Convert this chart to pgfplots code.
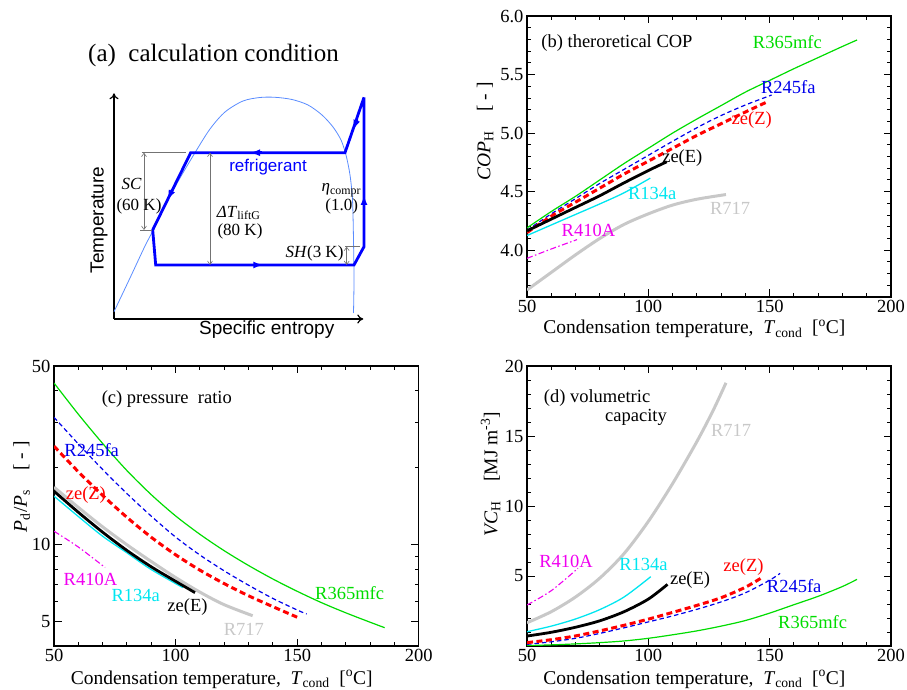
\documentclass[border=0pt]{standalone}
\usepackage{fontspec}
\setmainfont{Liberation Serif}
\newfontfamily\arial{Liberation Sans}
\usepackage{pgfplots}
\pgfplotsset{compat=1.18}
\usetikzlibrary{arrows.meta}

\definecolor{cgreen}{RGB}{0,220,0}
\definecolor{cblue}{RGB}{0,0,235}
\definecolor{cred}{RGB}{255,0,0}
\definecolor{ccyan}{RGB}{0,230,240}
\definecolor{cmag}{RGB}{240,0,240}
\definecolor{cgray}{RGB}{200,200,200}
\definecolor{cdome}{RGB}{90,140,255}

\tikzset{lab/.style={font=\fontsize{18.5bp}{20bp}\selectfont}}
\pgfplotsset{
  panel/.style={
    scale only axis, anchor=south west,
    xmin=50, xmax=200, xtick={50,100,150,200},
    xticklabels={\textrm{50},\textrm{100},\textrm{150},\textrm{200}},
    minor xtick={60,70,80,90,110,120,130,140,160,170,180,190},
    tick align=inside, major tick length=7.5bp, minor tick length=4bp,
    axis line style={line width=1.2bp},
    tick style={line width=0.9bp, black},
    tick label style={font=\fontsize{18.5bp}{20bp}\selectfont},
    label style={font=\fontsize{19.5bp}{21bp}\selectfont},
    xlabel={Condensation temperature,\ \ \textit{T}\textsubscript{cond}\ \ [\textsuperscript{o}C]},
    xlabel style={at={(axis description cs:0.46,-0.12)}, anchor=center},
    ylabel style={anchor=center},
    clip mode=individual,
    /pgf/number format/assume math mode=true,
  },
  r365/.style={cgreen, line width=1.2bp, smooth},
  r245/.style={cblue, line width=1.2bp, dash pattern=on 4.5bp off 3bp, smooth},
  zez/.style={cred, line width=3bp, dash pattern=on 6bp off 3.5bp, smooth},
  zee/.style={black, line width=2.8bp, smooth},
  r134/.style={ccyan, line width=1.3bp, smooth},
  r410/.style={cmag, line width=1.1bp, dash pattern=on 6bp off 2.5bp on 1.5bp off 2.5bp, smooth},
  r717/.style={cgray, line width=3bp, smooth},
}

\begin{document}
\begin{tikzpicture}
\useasboundingbox (0,0) rectangle (907bp,690bp);

% (a) schematic, drawn in picture units (y downwards as negative)
\begin{axis}[
  at={(114bp,371bp)}, anchor=south west, scale only axis,
  width=249.3bp, height=225.7bp,
  xmin=114, xmax=363.3, ymin=-319, ymax=-93.3,
  axis lines=left, xtick=\empty, ytick=\empty, clip=false,
  axis line style={line width=1.2bp, ->, >={To[length=6bp,width=9bp]}},
  flow/.style={blue, line width=2.8bp, ->, >={Latex[length=10bp,width=7bp]}},
  dim/.style={black!55, line width=0.6bp},
  dimarr/.style={black!55, line width=0.6bp, <->, >={Straight Barb[length=3.5bp,width=5bp]}},
]
\addplot[cdome, line width=0.8bp, smooth] coordinates {
  (114,-311.7)(130,-278)(145,-246)(153.3,-230)(165,-205)(180,-178)(195,-152.7)
  (210,-129)(225,-112)(243,-101)(260,-97.5)(275,-97.3)(292,-99.5)(308,-105)
  (322,-115)(333,-127)(341,-140)(346,-155)(350,-175)(352.5,-200)(353.5,-240)
  (354,-280)(353.5,-313)};
\addplot[blue, line width=2.8bp] coordinates {
  (364,-97.3)(345,-152.7)(190.7,-152.7)(152.7,-230)(155.7,-265)
  (354,-265)(364,-246.7)(364,-97.3)};
\addplot[flow] coordinates {(357,-119.5)(353.3,-130)};
\addplot[flow] coordinates {(262,-152.7)(250,-152.7)};
\addplot[flow] coordinates {(172.3,-190)(167.4,-200)};
\addplot[flow] coordinates {(251,-265)(263.3,-265)};
\addplot[flow] coordinates {(364,-207)(364,-195)};
\addplot[dim] coordinates {(141.7,-152.7)(185.7,-152.7)};
\addplot[dim] coordinates {(140,-230)(151.7,-230)};
\addplot[dim] coordinates {(345,-246.7)(360,-246.7)};
\addplot[dimarr] coordinates {(144,-152.7)(144,-230)};
\addplot[dimarr] coordinates {(210,-152.7)(210,-265)};
\addplot[dimarr] coordinates {(346.7,-246.7)(346.7,-265)};
\node[font=\fontsize{25bp}{27bp}\selectfont] at (axis cs:213.5,-55.5) {(a)\ \ calculation condition};
\node[font=\arial\fontsize{17bp}{19bp}\selectfont, text=blue] at (axis cs:268,-166.7) {refrigerant};
\node[font=\fontsize{17bp}{19bp}\selectfont] at (axis cs:131.7,-184) {\textit{SC}};
\node[font=\fontsize{17bp}{19bp}\selectfont] at (axis cs:139,-206) {(60 K)};
\node[font=\fontsize{17bp}{19bp}\selectfont] at (axis cs:238.7,-213) {\textit{ΔT}\textsubscript{liftG}};
\node[font=\fontsize{17bp}{19bp}\selectfont] at (axis cs:240,-231.7) {(80 K)};
\node[font=\fontsize{17bp}{19bp}\selectfont] at (axis cs:341.3,-190) {\textit{η}\textsubscript{compr}};
\node[font=\fontsize{17bp}{19bp}\selectfont] at (axis cs:341.7,-206.7) {(1.0)};
\node[font=\fontsize{17bp}{19bp}\selectfont] at (axis cs:314.5,-253.3) {\textit{SH}(3 K)};
\node[font=\arial\fontsize{19bp}{21bp}\selectfont, rotate=90] at (axis cs:99,-220) {Temperature};
\node[font=\arial\fontsize{19bp}{21bp}\selectfont] at (axis cs:266.7,-330) {Specific entropy};
\end{axis}

% (b) theoretical COP
\begin{axis}[panel, at={(527bp,393bp)}, width=364bp, height=281bp,
  ymin=3.6, ymax=6.0, ytick={4,4.5,5,5.5,6},
  yticklabels={\textrm{4.0},\textrm{4.5},\textrm{5.0},\textrm{5.5},\textrm{6.0}},
  minor ytick={3.7,3.8,3.9,4.1,4.2,4.3,4.4,4.6,4.7,4.8,4.9,5.1,5.2,5.3,5.4,5.6,5.7,5.8,5.9},
  ylabel={\textit{COP}\textsubscript{H}\quad[ - ]},
  ylabel style={at={(axis description cs:-0.115,0.59)}},
  xlabel style={at={(axis description cs:0.46,-0.114)}},
]
\addplot[r717] coordinates {(50,3.66)(60,3.81)(70,3.96)(80,4.10)(90,4.22)(100,4.31)(110,4.385)(120,4.435)(132,4.475)};
\addplot[r410] coordinates {(50,3.93)(60,4.01)(70.6,4.09)};
\addplot[r134] coordinates {(50,4.125)(60,4.215)(70,4.305)(80,4.395)(90,4.49)(100.8,4.615)};
\addplot[r365] coordinates {(50,4.19)(60,4.33)(70,4.46)(80,4.60)(90,4.74)(100,4.87)(110,5.0)(120,5.12)(130,5.235)(140,5.35)(150,5.45)(160,5.55)(170,5.645)(180,5.74)(186,5.795)};
\addplot[r245] coordinates {(50,4.17)(60,4.31)(70,4.44)(80,4.57)(90,4.69)(100,4.81)(110,4.93)(121.3,5.06)(130,5.15)(140,5.24)(150.8,5.325)};
\addplot[zez] coordinates {(50,4.15)(60,4.29)(70,4.41)(80,4.53)(90,4.65)(100,4.76)(110,4.87)(120,4.98)(130,5.08)(140,5.18)(148.8,5.265)};
\addplot[zee] coordinates {(50,4.165)(60,4.265)(70,4.365)(80,4.465)(90,4.575)(100,4.68)(107.6,4.755)};
\node[lab, anchor=west] at (axis cs:54.5,5.77) {(b) theroretical COP};
\node[lab, text=cgreen] at (axis cs:157.3,5.78) {R365mfc};
\node[lab, text=cblue] at (axis cs:157.7,5.39) {R245fa};
\node[lab, text=cred] at (axis cs:142.6,5.11) {ze(Z)};
\node[lab] at (axis cs:114,4.79) {ze(E)};
\node[lab, text=ccyan] at (axis cs:101.6,4.48) {R134a};
\node[lab, text=cgray] at (axis cs:133.7,4.36) {R717};
\node[lab, text=cmag] at (axis cs:75.3,4.17) {R410A};
\end{axis}

% (c) pressure ratio
\begin{axis}[panel, at={(54bp,44bp)}, width=364.7bp, height=280bp,
  ymode=log, ymin=4.02, ymax=50, ytick={5,10,50},
  yticklabels={\textrm{5},\textrm{10},\textrm{50}},
  minor ytick={6,7,8,9,20,30,40},
  ylabel={\textit{P}\textsubscript{d}/\textit{P}\textsubscript{s}\quad[ - ]},
  ylabel style={at={(axis description cs:-0.0885,0.569)}},
]
\addplot[r717] coordinates {(50,16.8)(60,14.0)(70,11.75)(80,10.0)(90,8.6)(100,7.45)(110,6.53)(120,5.83)(131.7,5.28)};
\addplot[r410] coordinates {(50,11.3)(60,9.8)(71,8.15)};
\addplot[r134] coordinates {(50,15.5)(60,12.9)(70,10.8)(80,9.3)(90,8.0)(103,6.8)};
\addplot[r365] coordinates {(50,42.9)(60,32.4)(70,24.9)(80,19.5)(90,15.7)(100,12.97)(110,10.99)(120,9.48)(130,8.30)(140,7.35)(150,6.58)(160,5.94)(170,5.42)(180,4.98)(186,4.74)};
\addplot[r245] coordinates {(50,31.5)(60,24.8)(70,19.7)(80,15.85)(90,12.94)(100,10.72)(110,9.12)(120,7.91)(130,6.95)(140,6.17)(150,5.56)(153.9,5.36)};
\addplot[zez] coordinates {(50,24.3)(60,19.3)(70,15.6)(80,12.8)(90,10.7)(100,9.14)(110,7.96)(120,7.05)(130,6.32)(140,5.73)(150,5.21)};
\addplot[zee] coordinates {(50,16.2)(60,13.4)(70,11.2)(80,9.5)(90,8.2)(100,7.2)(108,6.5)};
\node[lab] at (axis cs:96.4,37.2) {(c) pressure\ \ ratio};
\node[lab, text=cblue] at (axis cs:65.5,23.5) {R245fa};
\node[lab, text=cred] at (axis cs:63.1,15.6) {ze(Z)};
\node[lab, text=cmag] at (axis cs:65,7.3) {R410A};
\node[lab, text=ccyan] at (axis cs:83.6,6.32) {R134a};
\node[lab] at (axis cs:104.9,5.73) {ze(E)};
\node[lab, text=cgray] at (axis cs:128.1,4.67) {R717};
\node[lab, text=cgreen] at (axis cs:171.6,6.46) {R365mfc};
\end{axis}

% (d) volumetric capacity
\begin{axis}[panel, at={(527bp,44bp)}, width=364bp, height=280bp,
  ymin=0, ymax=20, ytick={5,10,15,20},
  yticklabels={\textrm{5},\textrm{10},\textrm{15},\textrm{20}},
  minor ytick={1,2,3,4,6,7,8,9,11,12,13,14,16,17,18,19},
  ylabel={\textit{VC}\textsubscript{H}\quad[MJ m\textsuperscript{-3}]},
  ylabel style={at={(axis description cs:-0.1,0.614)}},
]
\addplot[r717] coordinates {(50,1.66)(60,2.45)(70,3.5)(80,4.85)(90,6.6)(100,8.9)(110,11.6)(120,14.6)(126.8,16.86)(132,18.8)};
\addplot[r410] coordinates {(50,2.93)(60,3.95)(71,5.55)};
\addplot[r134] coordinates {(50,1.02)(60,1.42)(70,1.93)(80,2.6)(90,3.5)(101,4.95)};
\addplot[r365] coordinates {(50,0.03)(60,0.08)(70,0.15)(80,0.24)(90,0.36)(100,0.55)(110,0.8)(120,1.08)(130,1.42)(140,1.82)(150,2.35)(160,2.95)(170,3.55)(180,4.25)(186,4.76)};
\addplot[r245] coordinates {(50,0.12)(60,0.3)(70,0.55)(80,0.9)(90,1.3)(100,1.72)(110,2.15)(120,2.62)(130,3.15)(140,3.8)(150,4.7)(154.3,5.19)};
\addplot[zez] coordinates {(50,0.24)(60,0.45)(70,0.72)(80,1.08)(90,1.48)(100,1.92)(110,2.4)(120,2.9)(130,3.45)(140,4.2)(147.4,4.95)};
\addplot[zee] coordinates {(50,0.71)(60,0.98)(70,1.34)(80,1.8)(90,2.45)(100,3.35)(107.9,4.4)};
\node[lab, anchor=west] at (axis cs:55.5,17.7) {(d) volumetric};
\node[lab] at (axis cs:94.9,16.3) {capacity};
\node[lab, text=cgray] at (axis cs:134.1,15.4) {R717};
\node[lab, text=cmag] at (axis cs:66.1,6.02) {R410A};
\node[lab, text=ccyan] at (axis cs:98.0,5.79) {R134a};
\node[lab] at (axis cs:117.2,4.71) {ze(E)};
\node[lab, text=cred] at (axis cs:139.2,5.66) {ze(Z)};
\node[lab, text=cblue] at (axis cs:160.1,4.29) {R245fa};
\node[lab, text=cgreen] at (axis cs:167.7,1.74) {R365mfc};
\end{axis}
\end{tikzpicture}
\end{document}
